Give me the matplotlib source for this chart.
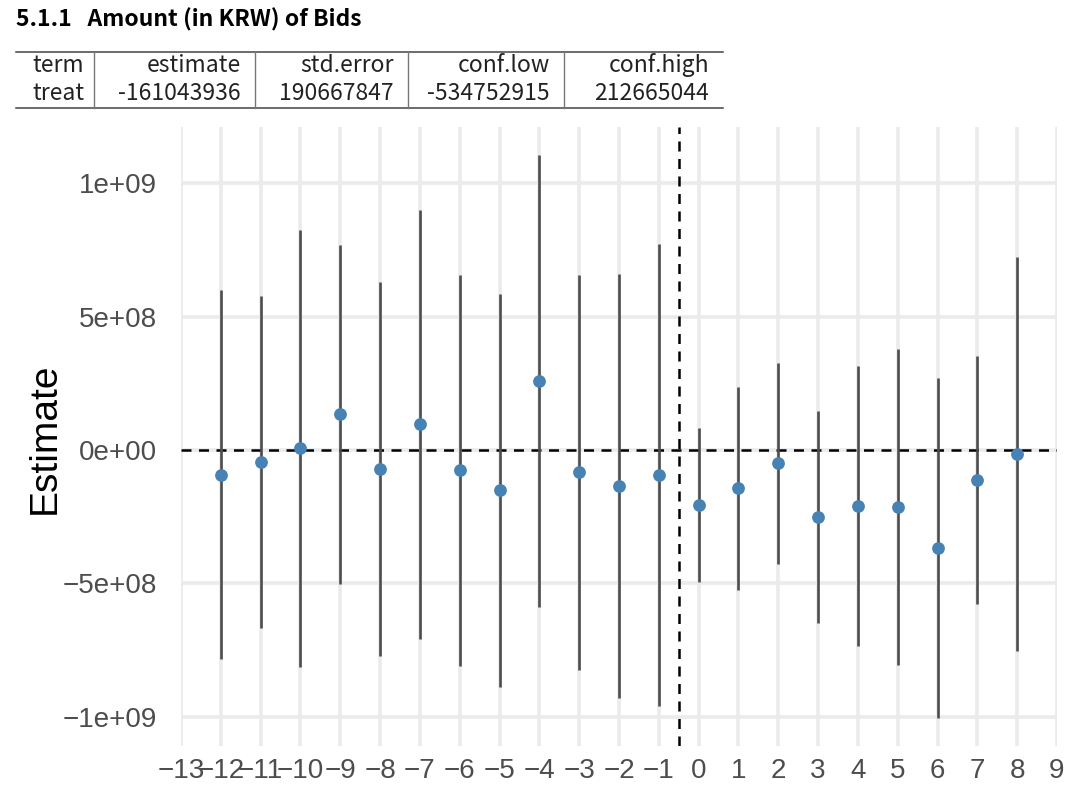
import matplotlib
matplotlib.use("Agg")
import matplotlib.pyplot as plt
from matplotlib.lines import Line2D

# ---- data ----
periods = [-12, -11, -10, -9, -8, -7, -6, -5, -4, -3, -2, -1, 0, 1, 2, 3, 4, 5, 6, 7, 8]
estimates = [-0.94e8, -0.44e8, 0.06e8, 1.34e8, -0.71e8, 0.96e8, -0.76e8, -1.51e8, 2.59e8, -0.84e8,
             -1.35e8, -0.94e8, -2.06e8, -1.44e8, -0.50e8, -2.50e8, -2.10e8, -2.13e8, -3.67e8, -1.14e8, -0.15e8]
conf_high = [6.00e8, 5.79e8, 8.25e8, 7.70e8, 6.30e8, 9.01e8, 6.55e8, 5.86e8, 11.07e8, 6.55e8,
             6.60e8, 7.71e8, 0.81e8, 2.37e8, 3.26e8, 1.46e8, 3.15e8, 3.80e8, 2.71e8, 3.52e8, 7.24e8]
conf_low = [-7.84e8, -6.68e8, -8.13e8, -5.04e8, -7.71e8, -7.10e8, -8.10e8, -8.90e8, -5.90e8, -8.24e8,
            -9.30e8, -9.59e8, -4.95e8, -5.26e8, -4.27e8, -6.48e8, -7.34e8, -8.06e8, -10.04e8, -5.79e8, -7.54e8]

x_ticks = list(range(-13, 10))
y_ticks = [-1e9, -5e8, 0, 5e8, 1e9]
y_tick_labels = ["\u22121e+09", "\u22125e+08", "0e+00", "5e+08", "1e+09"]

title_text = "5.1.1   Amount (in KRW) of Bids"
table_header = ["term", "estimate", "std.error", "conf.low", "conf.high"]
table_row = ["treat", "-161043936", "190667847", "-534752915", "212665044"]

W, H = 1084, 800
fig = plt.figure(figsize=(W / 100, H / 100), dpi=100)

def fx(px):
    return px / W

def fy(py):
    return 1 - py / H

kr = ["Noto Sans CJK KR", "DejaVu Sans"]

# title
fig.text(fx(16), fy(20), title_text, fontsize=16.5, fontweight="bold", family=kr,
         ha="left", va="center", color="black")

# table
col_edges = [16, 94, 255, 408, 564, 723]
top_y, bot_y = 52, 108
fig.add_artist(Line2D([fx(16), fx(723)], [fy(top_y), fy(top_y)], color="#444444", lw=1.1))
fig.add_artist(Line2D([fx(16), fx(723)], [fy(bot_y), fy(bot_y)], color="#444444", lw=1.1))
for e in col_edges[1:-1]:
    fig.add_artist(Line2D([fx(e), fx(e)], [fy(top_y), fy(bot_y)], color="#777777", lw=1.0))
row_y = [65, 93]
for i, (h, v) in enumerate(zip(table_header, table_row)):
    if i == 0:
        xpos, ha = 32, "left"
    else:
        xpos, ha = col_edges[i + 1] - 14, "right"
    fig.text(fx(xpos), fy(row_y[0]), h, fontsize=16.5, family=kr, ha=ha, va="center", color="#222222")
    fig.text(fx(xpos), fy(row_y[1]), v, fontsize=16.5, family=kr, ha=ha, va="center", color="#222222")

# plot
ax = fig.add_axes([fx(181), fy(745.7), (1057 - 181) / W, (745.7 - 127) / H])
ax.set_xlim(-13, 9)
ax.set_ylim(-11.09e8, 12.11e8)
for s in ax.spines.values():
    s.set_visible(False)
ax.set_facecolor("white")
ax.grid(True, color="#EBEBEB", lw=2.6, zorder=0)
ax.set_axisbelow(True)

ax.axhline(0, color="black", lw=1.8, ls=(0, (4, 3)), zorder=2)
ax.axvline(-0.5, color="black", lw=1.8, ls=(0, (4, 3)), zorder=2)

ax.vlines(periods, conf_low, conf_high, color="#4D4D4D", lw=1.9, zorder=3)
ax.plot(periods, estimates, "o", color="#4682B4", ms=9.2, mec="none", zorder=4)

ax.set_xticks(x_ticks)
ax.set_xticklabels([("\u2212" + str(-t)) if t < 0 else str(t) for t in x_ticks])
ax.set_yticks(y_ticks)
ax.set_yticklabels(y_tick_labels)
ax.tick_params(axis="both", length=0, labelsize=20, labelcolor="#4D4D4D")
ax.tick_params(axis="x", pad=9)
ax.tick_params(axis="y", pad=17)
for lbl in ax.get_xticklabels() + ax.get_yticklabels():
    lbl.set_family(["Liberation Sans", "DejaVu Sans"])

fig.text(fx(45), fy(438), "Estimate", rotation=90, fontsize=28, ha="center", va="center",
         family=["Liberation Sans", "DejaVu Sans"], color="black")

fig.savefig("out.png", dpi=100, facecolor="white")
